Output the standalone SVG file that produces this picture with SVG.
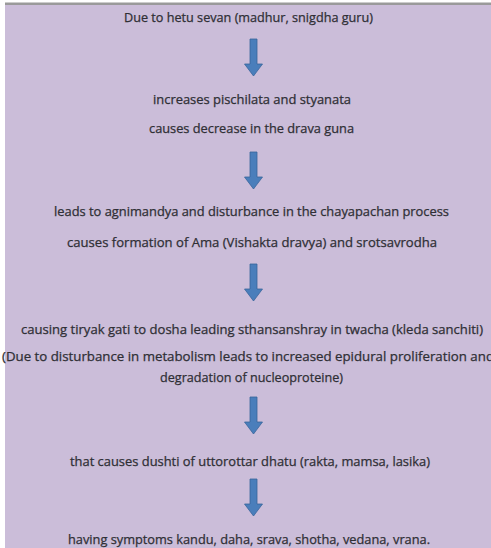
<svg xmlns="http://www.w3.org/2000/svg" width="491" height="548" viewBox="0 0 491 548">
<style>
text{font-family:"Open Sans","Liberation Sans",sans-serif;font-size:12px;fill:#2f2f35;stroke:#2f2f35;stroke-width:0.25;}
.arr{fill:#4a7ebb;stroke:#38659a;stroke-width:0.8;}
</style>
<defs>
<path id="ar" d="M-3.5,0 H3.5 V25 H9 L0,37 L-9,25 H-3.5 Z"/>
</defs>
<rect width="491" height="548" fill="#ffffff"/>
<rect x="5" y="5" width="486" height="543" fill="#cbbdd9"/>
<rect x="5" y="2.5" width="486" height="2.5" fill="#9a9a9a"/>
<g id="connectors">
<use href="#ar" class="arr" x="253.5" y="39"/>
<use href="#ar" class="arr" x="253.5" y="152"/>
<use href="#ar" class="arr" x="253.5" y="264"/>
<use href="#ar" class="arr" x="253.5" y="397"/>
<use href="#ar" class="arr" x="253.5" y="479"/>
</g>
<g id="n1"><text x="124" y="22" textLength="249" lengthAdjust="spacingAndGlyphs">Due to hetu sevan (madhur, snigdha guru)</text></g>
<g id="n2"><text x="153" y="104" textLength="198" lengthAdjust="spacingAndGlyphs">increases pischilata and styanata</text>
<text x="149" y="133" textLength="205" lengthAdjust="spacingAndGlyphs">causes decrease in the drava guna</text></g>
<g id="n3"><text x="54" y="216" textLength="395" lengthAdjust="spacingAndGlyphs">leads to agnimandya and disturbance in the chayapachan process</text>
<text x="67" y="247" textLength="370" lengthAdjust="spacingAndGlyphs">causes formation of Ama (Vishakta dravya) and srotsavrodha</text></g>
<g id="n4"><text x="21" y="334" textLength="462" lengthAdjust="spacingAndGlyphs">causing tiryak gati to dosha leading sthansanshray in twacha (kleda sanchiti)</text>
<text x="2" y="361" textLength="492" lengthAdjust="spacingAndGlyphs">(Due to disturbance in metabolism leads to increased epidural proliferation and</text>
<text x="160" y="382" textLength="183" lengthAdjust="spacingAndGlyphs">degradation of nucleoproteine)</text></g>
<g id="n5"><text x="70" y="466" textLength="360" lengthAdjust="spacingAndGlyphs">that causes dushti of uttorottar dhatu (rakta, mamsa, lasika)</text></g>
<g id="n6"><text x="68" y="544" textLength="362" lengthAdjust="spacingAndGlyphs">having symptoms kandu, daha, srava, shotha, vedana, vrana.</text></g>
</svg>
